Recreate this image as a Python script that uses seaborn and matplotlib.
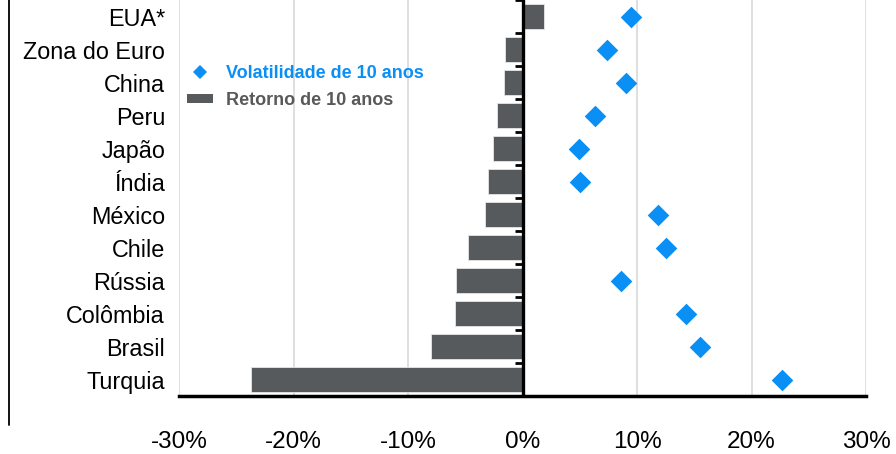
import matplotlib
matplotlib.use("Agg")
import matplotlib.pyplot as plt
from matplotlib.lines import Line2D
from matplotlib.markers import TICKLEFT
from matplotlib.patches import Patch
import seaborn as sns
import pandas as pd

# Data (%)
paises = ["EUA*", "Zona do Euro", "China", "Peru", "Japão", "Índia",
          "México", "Chile", "Rússia", "Colômbia", "Brasil", "Turquia"]
retorno_10a = [1.9, -1.5, -1.6, -2.2, -2.6, -3.0,
               -3.3, -4.8, -5.8, -5.9, -8.0, -23.7]
volatilidade_10a = [9.5, 7.4, 9.0, 6.3, 4.9, 5.0,
                    11.8, 12.5, 8.6, 14.3, 15.5, 22.7]
xticks = [-30, -20, -10, 0, 10, 20, 30]

COR_BARRA = "#575A5D"
COR_VOL = "#0A8FF5"

df = pd.DataFrame({"pais": paises, "retorno": retorno_10a,
                   "vol": volatilidade_10a})

sns.set_theme(style="white")
plt.rcParams["font.family"] = ["Liberation Sans", "DejaVu Sans"]

fig = plt.figure(figsize=(8.96, 4.54), dpi=100)
ax = fig.add_axes([179 / 896, 1 - 396 / 454, (866 - 179) / 896, 396 / 454])

sns.barplot(data=df, x="retorno", y="pais", orient="h", color=COR_BARRA,
            saturation=1, width=0.73, ax=ax, order=paises,
            edgecolor="#E6E6E6", linewidth=0.6)
sns.stripplot(data=df, x="vol", y="pais", orient="h", order=paises,
              marker="D", size=11, color=COR_VOL, linewidth=0,
              jitter=False, ax=ax, zorder=4)

ax.set_xlim(-30, 30)
ax.set_ylim(len(paises) - 0.5, -0.5)
ax.set_xticks(xticks)
ax.set_xticklabels([f"{v}%" for v in xticks])
ax.set_xlabel("")
ax.set_ylabel("")

# vertical gridlines (none at zero, where the axis line sits)
for v in xticks:
    if v != 0:
        ax.axvline(v, color="#D9D9D9", lw=1.2, zorder=0)

ax.tick_params(axis="x", length=0, pad=25, labelsize=17.5, colors="black")
ax.tick_params(axis="y", length=0, pad=10, labelsize=16.8, colors="black")

for s in ["top", "right", "left"]:
    ax.spines[s].set_visible(False)
ax.spines["bottom"].set_color("black")
ax.spines["bottom"].set_linewidth(2.5)
ax.spines["bottom"].set_zorder(5)

# zero axis line with tick marks between categories
ax.axvline(0, color="black", lw=2.4, zorder=5)
limites = [i - 0.5 for i in range(len(paises) + 1)]
ax.plot([0] * len(limites), limites, linestyle="none", marker=TICKLEFT,
        markersize=5.5, markeredgewidth=2, color="black", zorder=5,
        clip_on=False)

handles = [
    Line2D([0], [0], marker="D", linestyle="none", color=COR_VOL,
           markersize=7.5, markeredgewidth=0),
    Patch(facecolor=COR_BARRA, edgecolor="none"),
]
leg = ax.legend(handles, ["Volatilidade de 10 anos", "Retorno de 10 anos"],
                loc="upper left", bbox_to_anchor=(-0.007, 0.868), frameon=False,
                prop={"weight": "bold", "size": 13}, handlelength=1.45,
                handleheight=0.45, handletextpad=0.7, labelspacing=0.55,
                borderaxespad=0.3)
for txt, cor in zip(leg.get_texts(), [COR_VOL, "#595959"]):
    txt.set_color(cor)

# left frame line
fig.add_artist(Line2D([8.5 / 896, 8.5 / 896], [1, 1 - 425 / 454],
                      transform=fig.transFigure, color="black", lw=1.3))

fig.savefig("out.png", dpi=100)
